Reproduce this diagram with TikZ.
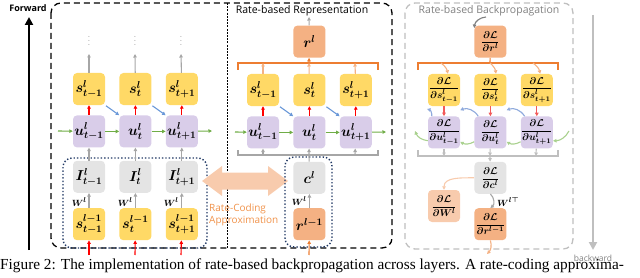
\documentclass[tikz,border=0pt]{standalone}
\usepackage{amsmath}
\usepackage{amssymb}
\usepackage{bm}
\usepackage{fontspec}
\setsansfont{Open Sans}
\newfontfamily\capfont{Liberation Serif}
\usepackage{tikz}
\usetikzlibrary{positioning,arrows.meta}
\usepackage{xcolor}
\definecolor{yellow2}{HTML}{FFD966}
\definecolor{purple2}{HTML}{D9CDE9}
\definecolor{gray2}{HTML}{E4E4E4}
\definecolor{orange2}{HTML}{F4B183}
\definecolor{peach2}{HTML}{F8CBAD}
\definecolor{orange3}{HTML}{ED7D31}
\definecolor{orange4}{HTML}{F0924A}
\definecolor{green2}{HTML}{70AD47}
\definecolor{green3}{HTML}{A9D18E}
\definecolor{blue2}{HTML}{6A98D8}
\definecolor{blue3}{HTML}{8FAADC}
\definecolor{red2}{HTML}{FF0000}
\definecolor{red3}{HTML}{F25A5A}
\definecolor{gray3}{HTML}{A6A6A6}
\definecolor{gray4}{HTML}{BFBFBF}
\definecolor{gray5}{HTML}{808080}
\definecolor{navy2}{HTML}{203864}

\begin{document}
\begin{tikzpicture}[x=1pt, y=-1pt,
        every node/.style ={align=center, inner sep=0pt},
        Cell/.style  ={rounded corners=4pt, minimum width=32pt, minimum height=32pt, font=\fontsize{14.5}{14.5}\selectfont},
        Spike/.style ={Cell, fill=yellow2},
        Memb/.style  ={Cell, fill=purple2},
        Curr/.style  ={Cell, fill=gray2},
        Rate/.style  ={Cell, fill=orange2},
        Grad/.style  ={font=\fontsize{10}{10}\selectfont},
        Title/.style ={font=\sffamily\fontsize{10.5}{12}\selectfont},
        WLab/.style  ={font=\fontsize{9.5}{9.5}\selectfont, anchor=east},
        Arr/.style   ={-{Triangle[length=3.5pt,width=3.5pt]}, line width=1.1pt},
        GrayArr/.style  ={Arr, draw=gray3},
        RedArr/.style   ={Arr, draw=red2},
        GreenArr/.style ={Arr, draw=green2},
        BlueArr/.style  ={Arr, draw=blue2},
        OrangeArr/.style={Arr, draw=orange3},
        PeachArr/.style ={Arr, draw=orange2},
        Bracket/.style  ={line width=1.1pt},
        DotBox/.style   ={draw=navy2, line width=1.4pt, dotted, rounded corners=9pt},
    ]
\useasboundingbox (0,0) rectangle (640,278);

% Frames
\draw[line width=1.3pt, dash pattern=on 6pt off 4pt, rounded corners=10pt] (51,3) rectangle (392,248);
\draw[line width=0.8pt, dash pattern=on 2pt off 1.2pt] (227,3) -- (227,248);
\draw[gray4, line width=1.3pt, dash pattern=on 6pt off 4pt, rounded corners=10pt] (405,3) rectangle (573,249);

% Forward / backward
\node (fwd) [font=\sffamily\bfseries\fontsize{9}{9}\selectfont] at (28,8) {Forward};
\coordinate (fwdA) at (29,250);
\coordinate (fwdB) at (29,17);
\draw[line width=2.6pt, -{Triangle[length=8pt,width=8pt]}] (fwdA) -- (fwdB);
\node (bwd) [font=\sffamily\fontsize{8.5}{9}\selectfont, text=gray5] at (593,258) {backward};
\coordinate (bwdA) at (593,15);
\coordinate (bwdB) at (593,250);
\draw[gray4, line width=2.6pt, -{Triangle[length=8pt,width=8pt]}] (bwdA) -- (bwdB);

% Spiking layer: nodes
\node (s1) [Spike] at (89,89) {$\bm{s^{l}_{t-1}}$};
\node (s2) [Spike, right=14pt of s1] {$\bm{s^{l}_{t}}$};
\node (s3) [Spike, right=14pt of s2] {$\bm{s^{l}_{t+1}}$};
\node (u1) [Memb, below=10pt of s1] {$\bm{u^{l}_{t-1}}$};
\node (u2) [Memb, below=10pt of s2] {$\bm{u^{l}_{t}}$};
\node (u3) [Memb, below=10pt of s3] {$\bm{u^{l}_{t+1}}$};
\node (i1) [Curr, below=13pt of u1] {$\bm{I^{l}_{t-1}}$};
\node (i2) [Curr, below=13pt of u2] {$\bm{I^{l}_{t}}$};
\node (i3) [Curr, below=13pt of u3] {$\bm{I^{l}_{t+1}}$};
\node (p1) [Spike, below=15pt of i1] {$\bm{s^{l-1}_{t-1}}$};
\node (p2) [Spike, below=15pt of i2] {$\bm{s^{l-1}_{t}}$};
\node (p3) [Spike, below=15pt of i3] {$\bm{s^{l-1}_{t+1}}$};
\node (d1) [text=gray3] at (89,38) {$\vdots$};
\node (d2) [text=gray3] at (135,38) {$\vdots$};
\node (d3) [text=gray3] at (181,38) {$\vdots$};
\node (w1) [WLab] at (87,202) {$\bm{W^{l}}$};
\node (w2) [WLab] at (133,202) {$\bm{W^{l}}$};
\node (w3) [WLab] at (179,202) {$\bm{W^{l}}$};
\draw[DotBox] (63,158) rectangle (207,248);

% Spiking layer: arrows
\coordinate (t1) at (89,54);
\coordinate (t2) at (135,54);
\coordinate (t3) at (181,54);
\draw[GrayArr] (s1) -- (t1);
\draw[GrayArr] (s2) -- (t2);
\draw[GrayArr] (s3) -- (t3);
\draw[RedArr] (u1) -- (s1);
\draw[RedArr] (u2) -- (s2);
\draw[RedArr] (u3) -- (s3);
\draw[BlueArr, shorten <=1pt] (s1.south east) -- (u2.north west);
\draw[BlueArr, shorten <=1pt] (s2.south east) -- (u3.north west);
\coordinate (gin) at (58,131);
\coordinate (gout) at (212,131);
\draw[GreenArr] (gin) -- (u1);
\draw[GreenArr] (u1) -- (u2);
\draw[GreenArr] (u2) -- (u3);
\draw[GreenArr] (u3) -- (gout);
\draw[GrayArr] (i1) -- (u1);
\draw[GrayArr] (i2) -- (u2);
\draw[GrayArr] (i3) -- (u3);
\draw[GrayArr] (p1) -- (i1);
\draw[GrayArr] (p2) -- (i2);
\draw[GrayArr] (p3) -- (i3);
\coordinate (x1) at (89,255);
\coordinate (x2) at (135,255);
\coordinate (x3) at (181,255);
\draw[RedArr] (x1) -- (p1);
\draw[RedArr] (x2) -- (p2);
\draw[RedArr] (x3) -- (p3);

% Rate-coding approximation
\fill[peach2] (202,181) -- (222,166) -- (222,172.5) -- (268,172.5) -- (268,166) -- (288,181)
    -- (268,196) -- (268,189.5) -- (222,189.5) -- (222,196) -- cycle;
\node (rca) [font=\sffamily\fontsize{10}{12}\selectfont, text=orange4, align=left, anchor=north west] at (209,204) {Rate-Coding\\Approximation};

% Rate-based representation: nodes
\node (rtitle) [Title] at (302,11) {Rate-based Representation};
\node (rs1) [Spike] at (263,90) {$\bm{s^{l}_{t-1}}$};
\node (rs2) [Spike, right=14pt of rs1] {$\bm{s^{l}_{t}}$};
\node (rs3) [Spike, right=14pt of rs2] {$\bm{s^{l}_{t+1}}$};
\node (ru1) [Memb, below=10pt of rs1] {$\bm{u^{l}_{t-1}}$};
\node (ru2) [Memb, below=10pt of rs2] {$\bm{u^{l}_{t}}$};
\node (ru3) [Memb, below=10pt of rs3] {$\bm{u^{l}_{t+1}}$};
\node (rr) [Rate, above=16pt of rs2] {$\bm{r^{l}}$};
\node (rc) [Curr, below=13pt of ru2] {$\bm{c^{l}}$};
\node (rp) [Rate, below=14pt of rc] {$\bm{r^{l-1}}$};
\node (rw) [WLab] at (307,201) {$\bm{W^{l}}$};
\draw[DotBox] (285,157) rectangle (332,247);

% Rate-based representation: arrows
\coordinate (rtop) at (309,17);
\draw[GrayArr] (rr) -- (rtop);
\draw[orange3, Bracket] (238,70) -- (238,63) -- (378,63) -- (378,70);
\coordinate (rb1) at (263,63);
\coordinate (rb2) at (309,63);
\coordinate (rb3) at (355,63);
\draw[PeachArr] (rs1) -- (rb1);
\draw[PeachArr] (rs2) -- (rb2);
\draw[PeachArr] (rs3) -- (rb3);
\draw[OrangeArr] (rb2) -- (rr);
\draw[RedArr] (ru1) -- (rs1);
\draw[RedArr] (ru2) -- (rs2);
\draw[RedArr] (ru3) -- (rs3);
\draw[BlueArr, shorten <=1pt] (rs1.south east) -- (ru2.north west);
\draw[BlueArr, shorten <=1pt] (rs2.south east) -- (ru3.north west);
\coordinate (rgin) at (235,132);
\coordinate (rgout) at (386,132);
\draw[GreenArr] (rgin) -- (ru1);
\draw[GreenArr] (ru1) -- (ru2);
\draw[GreenArr] (ru2) -- (ru3);
\draw[GreenArr] (ru3) -- (rgout);
\draw[gray3, Bracket] (238,150) -- (238,155) -- (378,155) -- (378,150);
\coordinate (rg1) at (263,155);
\coordinate (rg2) at (309,155);
\coordinate (rg3) at (355,155);
\draw[GrayArr] (rg1) -- (ru1);
\draw[GrayArr] (rg2) -- (ru2);
\draw[GrayArr] (rg3) -- (ru3);
\draw[gray3, line width=1.1pt] (rc) -- (rg2);
\draw[GrayArr] (rp) -- (rc);
\coordinate (rin) at (309,255);
\draw[OrangeArr] (rin) -- (rp);

% Rate-based backpropagation: nodes
\node (btitle) [Title, text=gray5] at (489,11) {Rate-based Backpropagation};
\node (bs1) [Spike, Grad] at (444,90) {$\dfrac{\bm{\partial\mathcal{L}}}{\bm{\partial s^{l}_{t-1}}}$};
\node (bs2) [Spike, Grad, right=14pt of bs1] {$\dfrac{\bm{\partial\mathcal{L}}}{\bm{\partial s^{l}_{t}}}$};
\node (bs3) [Spike, Grad, right=14pt of bs2] {$\dfrac{\bm{\partial\mathcal{L}}}{\bm{\partial s^{l}_{t+1}}}$};
\node (bu1) [Memb, Grad, below=10pt of bs1] {$\dfrac{\bm{\partial\mathcal{L}}}{\bm{\partial u^{l}_{t-1}}}$};
\node (bu2) [Memb, Grad, below=10pt of bs2] {$\dfrac{\bm{\partial\mathcal{L}}}{\bm{\partial u^{l}_{t}}}$};
\node (bu3) [Memb, Grad, below=10pt of bs3] {$\dfrac{\bm{\partial\mathcal{L}}}{\bm{\partial u^{l}_{t+1}}}$};
\node (br) [Rate, Grad, above=16pt of bs2] {$\dfrac{\bm{\partial\mathcal{L}}}{\bm{\partial r^{l}}}$};
\node (bc) [Curr, Grad, below=13pt of bu2] {$\dfrac{\bm{\partial\mathcal{L}}}{\bm{\partial c^{l}}}$};
\node (bp) [Rate, Grad, below=14pt of bc] {$\dfrac{\bm{\partial\mathcal{L}}}{\bm{\partial r^{l-1}}}$};
\node (bw) [Cell, Grad, fill=peach2] at (444,206) {$\dfrac{\bm{\partial\mathcal{L}}}{\bm{\partial W^{l}}}$};
\node (bwt) [WLab, anchor=west] at (497,202) {$\bm{W^{l\top}}$};

% Rate-based backpropagation: arrows
\coordinate (bin) at (486,17);
\draw[GrayArr, draw=gray5] (bin) to[bend right=40] (br);
\draw[orange3, Bracket] (418,70) -- (418,63) -- (558,63) -- (558,70);
\coordinate (bb1) at (441,63);
\coordinate (bb2) at (490,63);
\coordinate (bb3) at (533,63);
\draw[orange3, line width=1.1pt] (br) -- (bb2);
\draw[PeachArr] (bb1) to[bend left=20] (bs1);
\draw[PeachArr] (bb2) to[bend left=20] (bs2);
\draw[PeachArr] (bb3) to[bend left=20] (bs3);
\draw[Arr, draw=red3] (bs1) -- (bu1);
\draw[Arr, draw=red3] (bs2) -- (bu2);
\draw[Arr, draw=red3] (bs3) -- (bu3);
\coordinate (bbl) at (427,109);
\draw[Arr, draw=blue3] ([xshift=4pt]bu1.north west) to[bend right=40] (bbl);
\draw[Arr, draw=blue3] ([xshift=4pt]bu2.north west) to[bend right=40] ([yshift=-4pt]bs1.south east);
\draw[Arr, draw=blue3] ([xshift=4pt]bu3.north west) to[bend right=40] ([yshift=-4pt]bs2.south east);
\coordinate (bgin) at (569,131);
\coordinate (bgout) at (415,131);
\draw[Arr, draw=green3] (bgin) to[bend left=30] (bu3);
\draw[Arr, draw=green3] (bu3) to[bend left=30] (bu2);
\draw[Arr, draw=green3] (bu2) to[bend left=30] (bu1);
\draw[Arr, draw=green3] (bu1) to[bend left=30] (bgout);
\draw[gray4, Bracket] (418,150) -- (418,156) -- (558,156) -- (558,150);
\coordinate (bg1) at (444,156);
\coordinate (bg2) at (490,156);
\coordinate (bg3) at (536,156);
\draw[Arr, draw=gray4] (bu1) -- (bg1);
\draw[Arr, draw=gray4] (bu2) -- (bg2);
\draw[Arr, draw=gray4] (bu3) -- (bg3);
\draw[Arr, draw=gray4] (bg2) -- (bc);
\draw[Arr, draw=peach2] (bc.west) to[out=180, in=90] (bw.north);
\draw[GrayArr] (bc.south) to[bend left=50] (bp.north);
\coordinate (bout) at (487,254);
\draw[OrangeArr, draw=orange2] (bp.south) to[bend left=30] (bout);

% Caption
\node (cap) [anchor=west, font=\capfont\fontsize{15.3}{16}\selectfont] at (0,266) {Figure 2: The implementation of rate-based backpropagation across layers. A rate-coding approxima-};

\end{tikzpicture}
\end{document}
